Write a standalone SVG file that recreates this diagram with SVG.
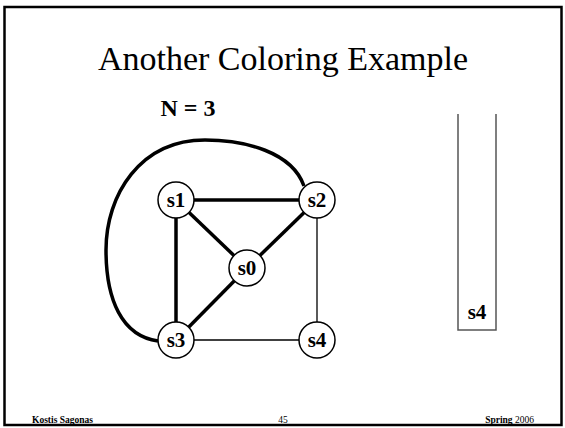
<svg xmlns="http://www.w3.org/2000/svg" width="565" height="428" viewBox="0 0 565 428">
<style>
.frame{fill:none;stroke:#000;stroke-width:2.5}
.title{font-family:"Liberation Serif",serif;font-size:34px;fill:#000}
.bold{font-family:"Liberation Serif",serif;font-weight:bold;fill:#000}
.foot{font-family:"Liberation Serif",serif;font-size:9.5px;fill:#000}
.node circle{fill:#fff;stroke:#000;stroke-width:1.5}
.node text{font-family:"Liberation Serif",serif;font-weight:bold;font-size:21px;text-anchor:middle;dominant-baseline:central}
.thick{stroke:#000;stroke-width:3.5;fill:none}
.thin{stroke:#000;stroke-width:1.3;fill:none}
.stack{stroke:#555;stroke-width:1.5;fill:none}
</style>
<rect x="0" y="0" width="565" height="428" fill="#fff"/>
<rect class="frame" x="4.5" y="7" width="557" height="418"/>
<text class="title" x="283" y="70" text-anchor="middle">Another Coloring Example</text>
<text class="bold" x="188" y="116" font-size="24" text-anchor="middle">N = 3</text>
<g id="connectors">
<path class="thick" d="M304,186 C292,152 245,140 205,140 C140,140 106,195 106,250 C106,300 122,336 158,341"/>
<line class="thick" x1="176" y1="200" x2="317" y2="200"/>
<line class="thick" x1="176" y1="200" x2="247" y2="268"/>
<line class="thick" x1="317" y1="200" x2="247" y2="268"/>
<line class="thick" x1="176" y1="200" x2="176" y2="340"/>
<line class="thick" x1="176" y1="340" x2="247" y2="268"/>
<line class="thin" x1="317" y1="200" x2="317" y2="340"/>
<line class="thin" x1="176" y1="340" x2="317" y2="340"/>
</g>
<g id="s1" class="node"><circle cx="176" cy="200" r="18"/><text x="176" y="200">s1</text></g>
<g id="s2" class="node"><circle cx="317" cy="200" r="18"/><text x="317" y="200">s2</text></g>
<g id="s0" class="node"><circle cx="247" cy="268" r="18"/><text x="247" y="268">s0</text></g>
<g id="s3" class="node"><circle cx="176" cy="340" r="18"/><text x="176" y="340">s3</text></g>
<g id="s4" class="node"><circle cx="317" cy="340" r="18"/><text x="317" y="340">s4</text></g>
<g id="stack">
<polyline class="stack" points="458,114 458,330 496,330 496,114"/>
<text class="bold" x="477" y="319" font-size="21" text-anchor="middle">s4</text>
</g>
<text class="foot" x="32" y="423" font-weight="bold">Kostis Sagonas</text>
<text class="foot" x="283" y="423" text-anchor="middle">45</text>
<text class="foot" x="534" y="423" text-anchor="end"><tspan font-weight="bold">Spring</tspan> 2006</text>
</svg>
